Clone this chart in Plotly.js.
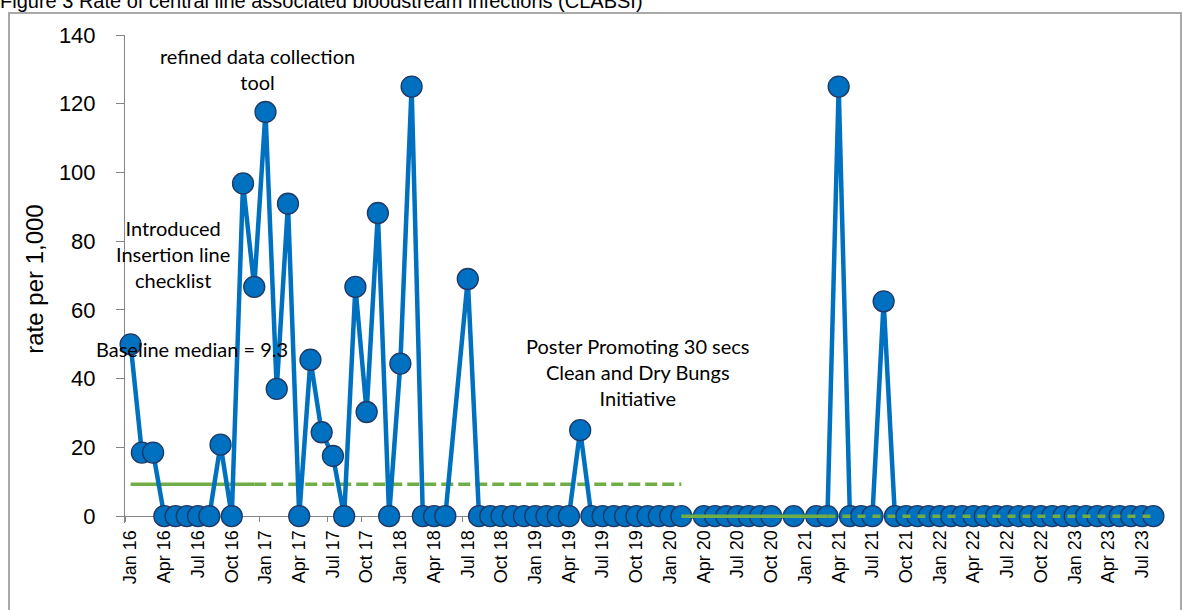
<!DOCTYPE html>
<html>
<head>
<meta charset="utf-8">
<script src="https://cdn.plot.ly/plotly-3.0.1.min.js"></script>
<style>
html,body{margin:0;padding:0;background:#ffffff;overflow:hidden;}
#frame{position:absolute;left:8px;top:12px;width:1174px;height:640px;border:2px solid #a9a9a9;box-sizing:border-box;}
#chart{position:absolute;left:0;top:0;width:1182px;height:610px;}
</style>
</head>
<body>
<div id="frame"></div>
<div id="chart"></div>
<script>
// Categories (one per month)
const months = [
  "Jan 16","Feb 16","Mar 16","Apr 16","May 16","Jun 16","Jul 16","Aug 16","Sep 16","Oct 16","Nov 16","Dec 16",
  "Jan 17","Feb 17","Mar 17","Apr 17","May 17","Jun 17","Jul 17","Aug 17","Sep 17","Oct 17","Nov 17","Dec 17",
  "Jan 18","Feb 18","Mar 18","Apr 18","May 18","Jun 18","Jul 18","Aug 18","Sep 18","Oct 18","Nov 18","Dec 18",
  "Jan 19","Feb 19","Mar 19","Apr 19","May 19","Jun 19","Jul 19","Aug 19","Sep 19","Oct 19","Nov 19","Dec 19",
  "Jan 20","Feb 20","Mar 20","Apr 20","May 20","Jun 20","Jul 20","Aug 20","Sep 20","Oct 20","Nov 20","Dec 20",
  "Jan 21","Feb 21","Mar 21","Apr 21","May 21","Jun 21","Jul 21","Aug 21","Sep 21","Oct 21","Nov 21","Dec 21",
  "Jan 22","Feb 22","Mar 22","Apr 22","May 22","Jun 22","Jul 22","Aug 22","Sep 22","Oct 22","Nov 22","Dec 22",
  "Jan 23","Feb 23","Mar 23","Apr 23","May 23","Jun 23","Jul 23","Aug 23"
];

// CLABSI rate per 1,000 line days (null = no data that month)
const rate = [
  50, 18.5, 18.5, 0, 0, 0, 0, 0, 20.8, 0, 96.8, 66.7,
  117.6, 37.0, 90.9, 0, 45.5, 24.4, 17.5, 0, 66.7, 30.3, 88.2, 0,
  44.4, 125, 0, 0, 0, null, 69.0, 0, 0, 0, 0, 0,
  0, 0, 0, 0, 25.0, 0, 0, 0, 0, 0, 0, 0,
  0, 0, null, 0, 0, 0, 0, 0, 0, 0, null, 0,
  null, 0, 0, 125, 0, 0, 0, 62.5, 0, 0, 0, 0,
  0, 0, 0, 0, 0, 0, 0, 0, 0, 0, 0, 0,
  0, 0, 0, 0, 0, 0, 0, 0
];

// Median phases
const baselineMedian = 9.3;
const baselinePeriod = ["Jan 16", "Dec 16"];
const baselineExtended = ["Dec 16", "Feb 20"];
const secondMedian = 0;
const secondPeriod = ["Feb 20", "Mar 21"];
const secondExtended = ["Mar 21", "Aug 23"];

const annotationTexts = [
  "refined data collection<br>tool",
  "Introduced<br>Insertion line<br>checklist",
  "Baseline median = 9.3",
  "Poster Promoting 30 secs<br>Clean and Dry Bungs<br>Initiative"
];

const blue = "#0070C0";
const green = "#70AD47";
const axisGray = "#868686";

const traces = [
  {x: baselinePeriod, y: [baselineMedian, baselineMedian], mode: "lines",
   line: {color: green, width: 3.5}, hoverinfo: "skip", cliponaxis: false},
  {x: baselineExtended, y: [baselineMedian, baselineMedian], mode: "lines",
   line: {color: green, width: 3.5, dash: "12px,5px"}, hoverinfo: "skip", cliponaxis: false},
  {x: months, y: rate, mode: "lines+markers", connectgaps: true, cliponaxis: false,
   line: {color: blue, width: 4.5},
   marker: {size: 21, color: blue, line: {color: "#1F3864", width: 1.3}}},
  {x: secondPeriod, y: [secondMedian, secondMedian], mode: "lines",
   line: {color: green, width: 3.5}, hoverinfo: "skip", cliponaxis: false},
  {x: secondExtended, y: [secondMedian, secondMedian], mode: "lines",
   line: {color: green, width: 3.5, dash: "8px,7px"}, hoverinfo: "skip", cliponaxis: false}
];

const annFont = {family: "Lato, 'Open Sans', sans-serif", size: 20, color: "#000000"};

const yMin = -2, yMax = 140;

const layout = {
  width: 1182, height: 610,
  paper_bgcolor: "rgba(0,0,0,0)", plot_bgcolor: "rgba(0,0,0,0)",
  margin: {l: 125, r: 23, t: 35, b: 87},
  showlegend: false,
  title: {
    text: "Figure 3 Rate of central line associated bloodstream infections (CLABSI)",
    font: {family: "'Liberation Sans', Arial, sans-serif", size: 20, color: "#000000"},
    xref: "container", x: 0, xanchor: "left",
    yref: "container", y: 0.999, yanchor: "middle",
    pad: {t: 0, b: 0, l: 0, r: 0}
  },
  xaxis: {
    type: "category", categoryorder: "array", categoryarray: months,
    range: [-0.5, 91.5], autorange: false,
    anchor: "free", position: (0 - yMin) / (yMax - yMin),
    tickmode: "linear", tick0: 0, dtick: 3, tickson: "boundaries",
    ticks: "outside", ticklen: 5, tickcolor: axisGray, tickwidth: 1,
    tickangle: -90, ticklabelstandoff: 6,
    tickfont: {family: "'Liberation Sans', Arial, sans-serif", size: 18, color: "#000000"},
    showline: true, linecolor: axisGray, linewidth: 1,
    showgrid: false, zeroline: false, layer: "below traces", fixedrange: true
  },
  yaxis: {
    range: [yMin, yMax], autorange: false, tickmode: "linear", dtick: 20, tick0: 0,
    ticks: "outside", ticklen: 8, tickcolor: axisGray, tickwidth: 1,
    ticklabelstandoff: 16,
    tickfont: {family: "'Liberation Sans', Arial, sans-serif", size: 22, color: "#000000"},
    showline: true, linecolor: axisGray, linewidth: 1,
    showgrid: false, zeroline: false, layer: "below traces", fixedrange: true,
    title: {text: "rate per 1,000", standoff: 8,
            font: {family: "'Liberation Sans', Arial, sans-serif", size: 24, color: "#000000"}}
  },
  annotations: [
    {text: annotationTexts[0], x: 11.33, y: 130.2, xref: "x", yref: "y", showarrow: false, font: annFont, align: "center"},
    {text: annotationTexts[1], x: 3.77, y: 76.2, xref: "x", yref: "y", showarrow: false, font: annFont, align: "center"},
    {text: annotationTexts[2], x: 5.5, y: 48.5, xref: "x", yref: "y", showarrow: false, font: annFont, align: "center"},
    {text: annotationTexts[3], x: 45.1, y: 41.8, xref: "x", yref: "y", showarrow: false, font: annFont, align: "center"}
  ]
};

Plotly.newPlot("chart", traces, layout, {staticPlot: true, displayModeBar: false});
</script>
</body>
</html>
